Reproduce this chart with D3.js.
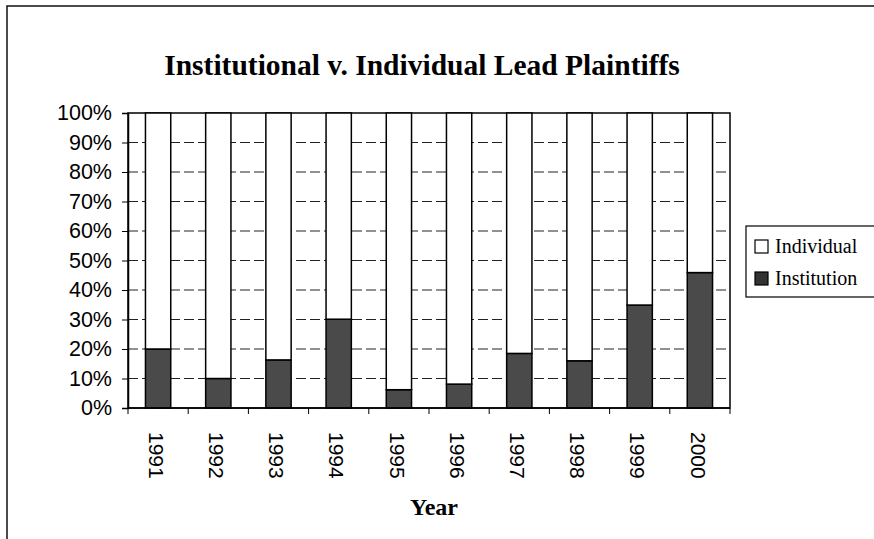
<!DOCTYPE html>
<html>
<head>
<meta charset="utf-8">
<script src="https://cdn.jsdelivr.net/npm/d3@7"></script>
<style>
  body { margin: 0; background: #fff; }
  svg { display: block; }
</style>
</head>
<body>
<div id="chart"></div>
<script>
var years = ["1991", "1992", "1993", "1994", "1995", "1996", "1997", "1998", "1999", "2000"];
var institution = [20, 10, 16.3, 30.1, 6.2, 8.1, 18.5, 16, 34.9, 45.9];
var individual = institution.map(function (v) { return 100 - v; });
var yTicks = [0, 10, 20, 30, 40, 50, 60, 70, 80, 90, 100];
var seriesNames = ["Individual", "Institution"];

var width = 874, height = 539;
// note: "top" is taken by window.top, so use plot* names
var plotLeft = 128, plotRight = 730, plotTop = 113, plotBottom = 408;

var svg = d3.select("#chart").append("svg")
    .attr("width", width)
    .attr("height", height);

// outer frame (scan shows only left and top edges)
svg.append("path")
    .attr("d", "M7,539 L7,6 L874,6")
    .attr("fill", "none")
    .attr("stroke", "#111")
    .attr("stroke-width", 1.5);

var x = d3.scaleBand()
    .domain(years)
    .range([plotLeft, plotRight])
    .paddingInner(0.58)
    .paddingOuter(0.29);

var y = d3.scaleLinear()
    .domain([0, 100])
    .range([plotBottom, plotTop]);

// gridlines
svg.append("g").selectAll("line")
    .data(yTicks.slice(1, -1))
    .enter().append("line")
    .attr("x1", plotLeft).attr("x2", plotRight)
    .attr("y1", function (d) { return y(d); })
    .attr("y2", function (d) { return y(d); })
    .attr("stroke", "#222")
    .attr("stroke-width", 1)
    .attr("stroke-dasharray", "10,4");

// plot border
svg.append("rect")
    .attr("x", plotLeft).attr("y", plotTop)
    .attr("width", plotRight - plotLeft).attr("height", plotBottom - plotTop)
    .attr("fill", "none")
    .attr("stroke", "#000")
    .attr("stroke-width", 1.5);

// stacked bars
var bars = svg.append("g");
bars.selectAll("rect.inst")
    .data(years)
    .enter().append("rect")
    .attr("class", "inst")
    .attr("x", function (d) { return x(d); })
    .attr("width", x.bandwidth())
    .attr("y", function (d, i) { return y(institution[i]); })
    .attr("height", function (d, i) { return y(0) - y(institution[i]); })
    .attr("fill", "#4a4a4a")
    .attr("stroke", "#000")
    .attr("stroke-width", 1.5);
bars.selectAll("rect.indiv")
    .data(years)
    .enter().append("rect")
    .attr("class", "indiv")
    .attr("x", function (d) { return x(d); })
    .attr("width", x.bandwidth())
    .attr("y", function (d, i) { return y(institution[i] + individual[i]); })
    .attr("height", function (d, i) { return y(institution[i]) - y(institution[i] + individual[i]); })
    .attr("fill", "#fff")
    .attr("stroke", "#000")
    .attr("stroke-width", 1.5);

// y axis
var yAxis = svg.append("g")
    .attr("transform", "translate(" + plotLeft + ",0)")
    .call(d3.axisLeft(y).tickValues(yTicks).tickSize(6).tickPadding(10)
        .tickFormat(function (d) { return d + "%"; }));
yAxis.select(".domain").attr("stroke", "#000").attr("stroke-width", 1.5);
yAxis.selectAll(".tick line").attr("stroke", "#000");
yAxis.selectAll("text")
    .attr("font-family", "Liberation Sans, Arial, sans-serif")
    .attr("font-size", 21.5)
    .attr("fill", "#000");

// x axis: ticks at the band boundaries
var xAxis = svg.append("g")
    .attr("transform", "translate(0," + plotBottom + ")");
xAxis.append("line")
    .attr("x1", plotLeft).attr("x2", plotRight)
    .attr("stroke", "#000").attr("stroke-width", 1.5);
xAxis.selectAll("line.tk")
    .data(years.concat(["end"]))
    .enter().append("line")
    .attr("class", "tk")
    .attr("x1", function (d, i) { return plotLeft + i * x.step(); })
    .attr("x2", function (d, i) { return plotLeft + i * x.step(); })
    .attr("y1", 0).attr("y2", 6)
    .attr("stroke", "#000");
xAxis.selectAll("text")
    .data(years)
    .enter().append("text")
    .attr("transform", function (d) {
        return "translate(" + (x(d) + x.bandwidth() / 2 - 2) + ",24) rotate(90)";
    })
    .attr("dy", "0.35em")
    .attr("font-family", "Liberation Sans, Arial, sans-serif")
    .attr("font-size", 21)
    .text(function (d) { return d; });

// title and axis title
svg.append("text")
    .attr("x", 422).attr("y", 75)
    .attr("text-anchor", "middle")
    .attr("font-family", "Liberation Serif, Times New Roman, serif")
    .attr("font-weight", "bold")
    .attr("font-size", 29.5)
    .text("Institutional v. Individual Lead Plaintiffs");

svg.append("text")
    .attr("x", 434).attr("y", 515)
    .attr("text-anchor", "middle")
    .attr("font-family", "Liberation Serif, Times New Roman, serif")
    .attr("font-weight", "bold")
    .attr("font-size", 24)
    .text("Year");

// legend
var legend = svg.append("g");
legend.append("rect")
    .attr("x", 746).attr("y", 226)
    .attr("width", 140).attr("height", 71)
    .attr("fill", "#fff")
    .attr("stroke", "#000")
    .attr("stroke-width", 1.2);
var items = legend.selectAll("g.item")
    .data(seriesNames)
    .enter().append("g")
    .attr("class", "item")
    .attr("transform", function (d, i) { return "translate(755," + (240 + i * 32) + ")"; });
items.append("rect")
    .attr("width", 13).attr("height", 13)
    .attr("fill", function (d) { return d == "Individual" ? "#fff" : "#333"; })
    .attr("stroke", "#000")
    .attr("stroke-width", 1.2);
items.append("text")
    .attr("x", 20).attr("y", 13)
    .attr("font-family", "Liberation Serif, Times New Roman, serif")
    .attr("font-size", 20)
    .text(function (d) { return d; });
</script>
</body>
</html>
